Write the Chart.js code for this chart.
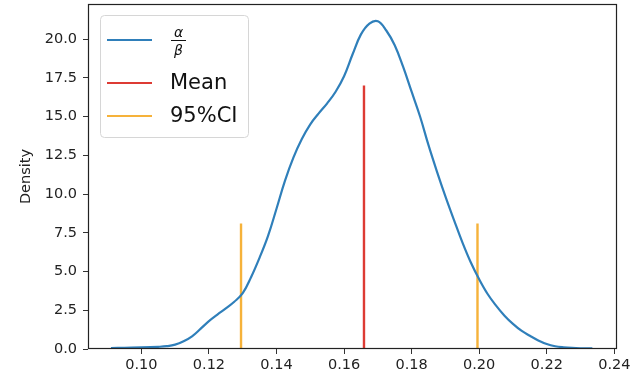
<!DOCTYPE html>
<html>
<head>
<meta charset="utf-8">
<script src="https://cdn.jsdelivr.net/npm/chart.js@4.4.1/dist/chart.umd.min.js"></script>
<style>
  body { margin: 0; background: #fff; }
</style>
</head>
<body>
<canvas id="kdeChart" width="640" height="378"></canvas>
<script>
// kde curve of alpha/beta
const kdeX = [0.0910, 0.0950, 0.1000, 0.1050, 0.1075, 0.1100, 0.1125, 0.1150, 0.1175, 0.1200,
              0.1225, 0.1250, 0.1275, 0.1300, 0.1325, 0.1350, 0.1375, 0.1400, 0.1425, 0.1450,
              0.1475, 0.1500, 0.1525, 0.1550, 0.1575, 0.1600, 0.1625, 0.1650, 0.1675, 0.1700,
              0.1725, 0.1750, 0.1775, 0.1800, 0.1825, 0.1850, 0.1875, 0.1900, 0.1925, 0.1950,
              0.1975, 0.2000, 0.2025, 0.2050, 0.2075, 0.2100, 0.2125, 0.2150, 0.2175, 0.2200,
              0.2225, 0.2250, 0.2275, 0.2300, 0.2335];
const kdeY = [0.06, 0.08, 0.10, 0.14, 0.18, 0.28, 0.50, 0.82, 1.30, 1.80,
              2.22, 2.62, 3.05, 3.60, 4.65, 5.90, 7.30, 9.05, 10.85, 12.35,
              13.55, 14.50, 15.20, 15.85, 16.60, 17.60, 19.00, 20.30, 21.00, 21.15,
              20.55, 19.60, 18.20, 16.60, 15.00, 13.15, 11.45, 9.85, 8.35, 6.90,
              5.60, 4.50, 3.55, 2.80, 2.15, 1.62, 1.18, 0.85, 0.55, 0.32,
              0.18, 0.11, 0.07, 0.05, 0.04];

// mean and 95% interval markers
const meanX = 0.1659;
const meanTop = 17.0;
const ciX = [0.1295, 0.1995];
const ciTop = 8.1;

// ticks
const xTicks = [0.10, 0.12, 0.14, 0.16, 0.18, 0.20, 0.22, 0.24];
const yTicks = [0.0, 2.5, 5.0, 7.5, 10.0, 12.5, 15.0, 17.5, 20.0];

const blue = '#2f7fba';
const red = '#dd3b34';
const orange = '#f6b23a';
const tickFont = { family: 'DejaVu Sans', size: 14.5 };

// build the point lists
const kdePoints = kdeX.map((x, i) => ({ x: x, y: kdeY[i] }));
const meanPoints = [{ x: meanX, y: 0 }, { x: meanX, y: meanTop }];
const ciPoints = [];
ciX.forEach((x, i) => {
  if (i > 0) ciPoints.push({ x: x, y: null });
  ciPoints.push({ x: x, y: 0 }, { x: x, y: ciTop });
});

// box around the axes + legend like matplotlib
const frameAndLegend = {
  id: 'frameAndLegend',
  afterDraw(chart) {
    const ctx = chart.ctx;
    const a = chart.chartArea;
    ctx.save();
    ctx.strokeStyle = '#222';
    ctx.lineWidth = 1.2;
    ctx.strokeRect(a.left + 0.5, a.top + 0.5, a.right - a.left - 1, a.bottom - a.top - 1);

    // legend box
    const bx = 100.5, by = 15.5, bw = 148, bh = 122, r = 4;
    ctx.beginPath();
    ctx.moveTo(bx + r, by);
    ctx.arcTo(bx + bw, by, bx + bw, by + bh, r);
    ctx.arcTo(bx + bw, by + bh, bx, by + bh, r);
    ctx.arcTo(bx, by + bh, bx, by, r);
    ctx.arcTo(bx, by, bx + bw, by, r);
    ctx.closePath();
    ctx.fillStyle = 'rgba(255,255,255,0.85)';
    ctx.fill();
    ctx.strokeStyle = '#d6d6d6';
    ctx.lineWidth = 1;
    ctx.stroke();

    const rows = [
      { color: blue, y: 40 },
      { color: red, y: 83, label: 'Mean' },
      { color: orange, y: 116, label: '95%CI' }
    ];
    rows.forEach(row => {
      ctx.beginPath();
      ctx.strokeStyle = row.color;
      ctx.lineWidth = 2.2;
      ctx.moveTo(107, row.y);
      ctx.lineTo(152, row.y);
      ctx.stroke();
      if (row.label) {
        ctx.fillStyle = '#111';
        ctx.font = '21px "DejaVu Sans"';
        ctx.textBaseline = 'middle';
        ctx.textAlign = 'left';
        ctx.fillText(row.label, 170, row.y + 1);
      }
    });

    // alpha over beta
    ctx.fillStyle = '#111';
    ctx.font = 'italic 14px "DejaVu Sans"';
    ctx.textAlign = 'center';
    ctx.textBaseline = 'alphabetic';
    ctx.fillText('α', 178.5, 37);
    ctx.fillText('β', 178.5, 55);
    ctx.beginPath();
    ctx.strokeStyle = '#111';
    ctx.lineWidth = 1;
    ctx.moveTo(171, 40.5);
    ctx.lineTo(186, 40.5);
    ctx.stroke();
    ctx.restore();
  }
};

const kdeCtx = document.getElementById('kdeChart').getContext('2d');
new Chart(kdeCtx, {
  type: 'line',
  data: {
    datasets: [
      {
        label: 'α/β',
        data: kdePoints,
        borderColor: blue,
        borderWidth: 2.2,
        pointRadius: 0,
        tension: 0.4,
        fill: false
      },
      {
        label: 'Mean',
        data: meanPoints,
        borderColor: red,
        borderWidth: 2.4,
        pointRadius: 0,
        fill: false
      },
      {
        label: '95%CI',
        data: ciPoints,
        borderColor: orange,
        borderWidth: 2.4,
        pointRadius: 0,
        spanGaps: false,
        fill: false
      }
    ]
  },
  options: {
    responsive: false,
    animation: false,
    devicePixelRatio: 1,
    layout: { padding: { top: 4, right: 23, left: 0, bottom: 0 } },
    plugins: {
      legend: { display: false },
      tooltip: { enabled: false }
    },
    scales: {
      x: {
        type: 'linear',
        min: 0.0842,
        max: 0.2408,
        afterBuildTicks: scale => { scale.ticks = xTicks.map(v => ({ value: v })); },
        afterFit: scale => {
          scale.height = 29;
          scale.paddingLeft = 0;
          scale.paddingRight = 0;
        },
        border: { display: false },
        grid: { drawOnChartArea: false, drawTicks: true, tickLength: 5, color: '#333', lineWidth: 1 },
        ticks: {
          color: '#222',
          font: tickFont,
          padding: 3,
          maxRotation: 0,
          callback: v => v.toFixed(2)
        }
      },
      y: {
        type: 'linear',
        min: 0,
        max: 22.26,
        afterBuildTicks: scale => { scale.ticks = yTicks.map(v => ({ value: v })); },
        afterFit: scale => {
          scale.width = 88;
          scale.paddingTop = 0;
          scale.paddingBottom = 0;
        },
        border: { display: false },
        grid: { drawOnChartArea: false, drawTicks: true, tickLength: 5, color: '#333', lineWidth: 1 },
        ticks: {
          color: '#222',
          font: tickFont,
          padding: 6,
          callback: v => v.toFixed(1)
        },
        title: {
          display: true,
          text: 'Density',
          color: '#222',
          font: tickFont,
          padding: { top: 18, bottom: 0 }
        }
      }
    }
  },
  plugins: [frameAndLegend]
});
</script>
</body>
</html>
